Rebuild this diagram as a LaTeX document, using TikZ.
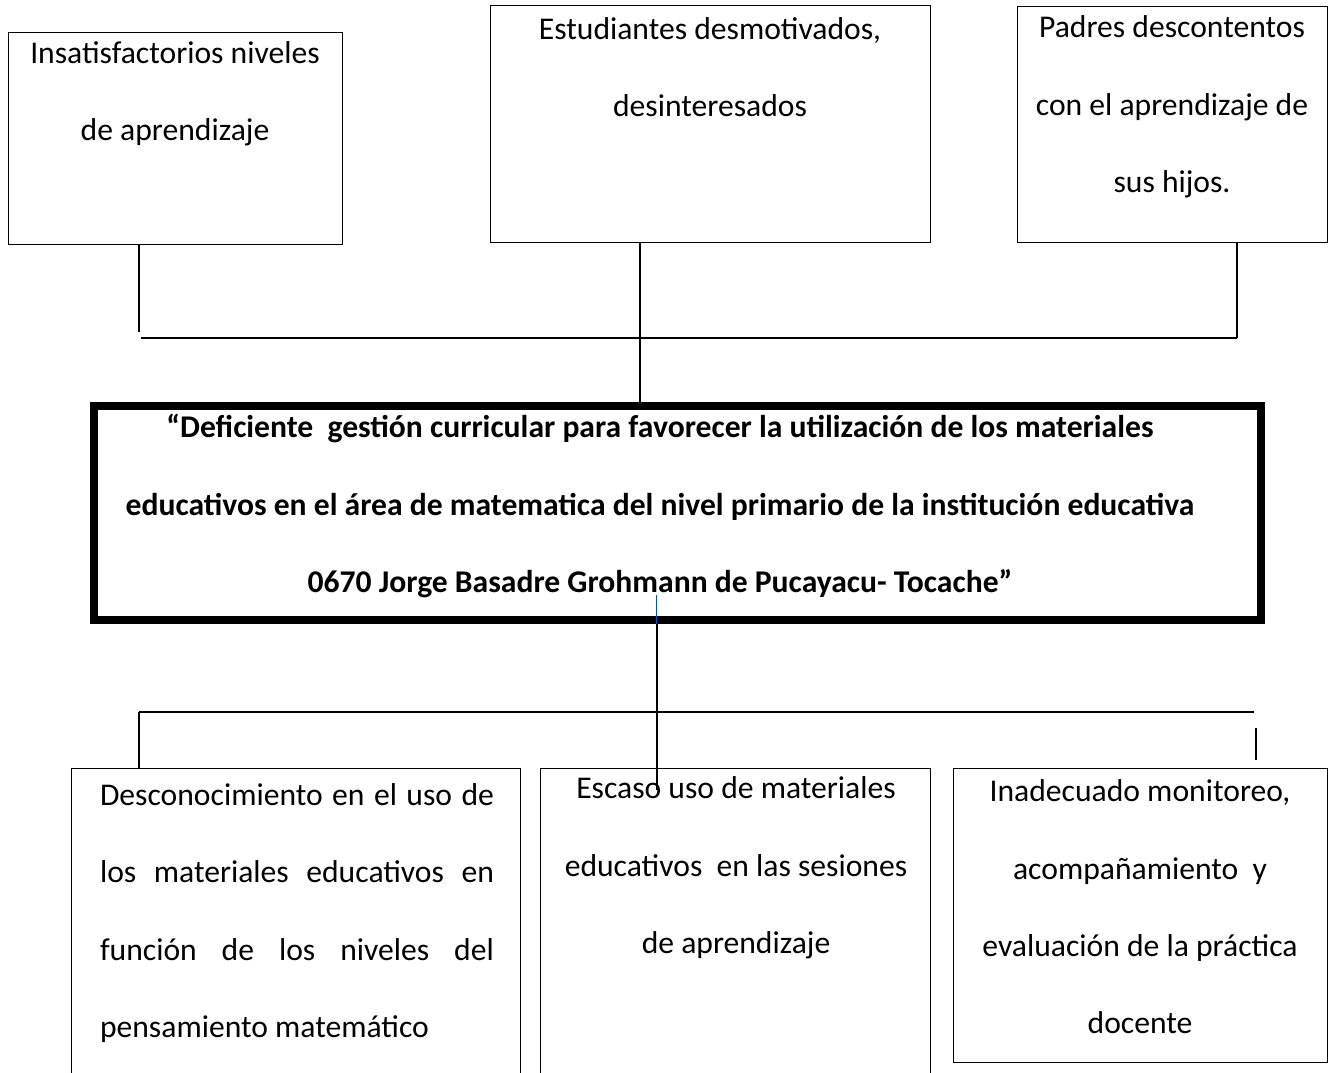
\documentclass[tikz,border=0pt]{standalone}
\usepackage{fontspec}
\setmainfont{Carlito}
\usetikzlibrary{positioning}

\tikzset{
  caja/.style={draw, line width=0.8pt, inner sep=0pt, anchor=north west},
  texto/.style={align=center, font=\fontsize{18}{44}\selectfont, inner sep=0pt},
  linea/.style={line width=0.8pt}
}

\begin{document}
\begin{tikzpicture}[x=0.02cm, y=-0.02cm]
    \clip (0, 0) rectangle (1334, 1072);

    % efectos
    \node[caja, minimum width=6.68cm, minimum height=4.24cm] (efA) at (8, 32) {};
    \node[caja, minimum width=8.8cm, minimum height=4.74cm] (efB) at (490, 5) {};
    \node[caja, minimum width=6.2cm, minimum height=4.72cm] (efC) at (1017, 6) {};
    \node[texto] (tA) at (175, 94) {Insatisfactorios niveles\\de aprendizaje};
    \node[texto] (tB) at (710, 67) {Estudiantes desmotivados,\\desinteresados};
    \node[texto] (tC) at (1172, 107) {Padres descontentos\\con el aprendizaje de\\sus hijos.};

    % problema central
    \node[caja, line width=4.5pt, minimum width=23.34cm, minimum height=4.28cm] (prob) at (90, 402) {};
    \node[texto, font=\fontsize{18}{44}\selectfont\bfseries] (tP) at (660, 506)
        {``Deficiente\ \ gesti\'on curricular para favorecer la utilizaci\'on de los materiales\\
         educativos en el \'area de matematica del nivel primario de la instituci\'on educativa\\
         0670 Jorge Basadre Grohmann de Pucayacu- Tocache''};

    % causas
    \node[caja, minimum width=8.98cm, minimum height=6.6cm] (caA) at (71, 768) {};
    \node[caja, minimum width=7.8cm, minimum height=6.6cm] (caB) at (540, 768) {};
    \node[caja, minimum width=7.48cm, minimum height=5.88cm] (caC) at (953, 768) {};
    \node[texto, align=justify, text width=7.88cm] (tcA) at (297, 913)
        {Desconocimiento en el uso de\linebreak los materiales educativos en\linebreak
         funci\'on de los niveles del\linebreak pensamiento matem\'atico};
    \node[texto] (tcB) at (736, 868) {Escaso uso de materiales\\educativos\ \ en las sesiones\\de aprendizaje};
    \node[texto] (tcC) at (1140, 907) {Inadecuado monitoreo,\\acompa\~namiento\ \ y\\evaluaci\'on de la pr\'actica\\docente};

    % conectores de arriba
    \coordinate (jA) at (139, 332);
    \coordinate (hA) at (141, 338);
    \coordinate (hC) at (1237, 338);
    \draw[linea] (efA.south -| jA) -- (jA);
    \draw[linea] (hA) -- (hC);
    \draw[linea] (efC.south -| hC) -- (hC);
    \draw[linea] (efB.south -| 640, 0) -- (prob.north -| 640, 0);

    % conectores de abajo
    \coordinate (bz) at (656, 595);
    \coordinate (bzf) at (656, 643);
    \coordinate (ba) at (657, 790);
    \coordinate (hL) at (139, 712);
    \coordinate (hR) at (1254, 712);
    \coordinate (sR) at (1256, 728);
    \coordinate (sRf) at (1256, 760);
    \draw[blue!60!cyan!80!black, line width=0.5pt] (bz) -- (bzf);
    \draw[linea] (prob.south -| ba) -- (ba);
    \draw[linea] (hL) -- (hR);
    \draw[linea] (hL) -- (caA.north -| hL);
    \draw[linea] (sR) -- (sRf);
\end{tikzpicture}
\end{document}
